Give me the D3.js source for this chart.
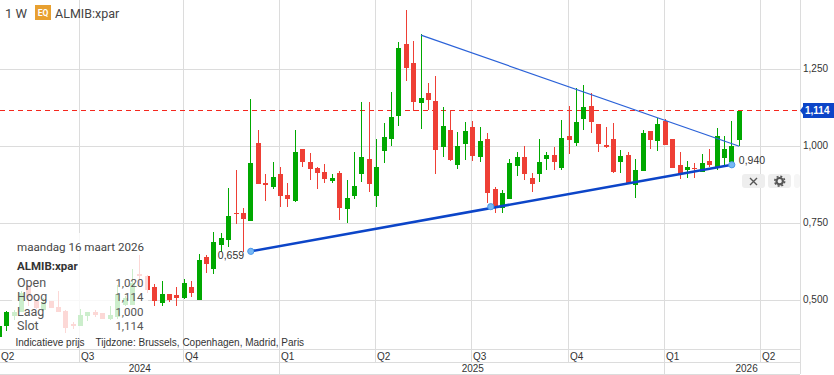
<!DOCTYPE html>
<html>
<head>
<meta charset="utf-8">
<style>
  html, body { margin: 0; padding: 0; background: #fff; }
  svg { display: block; }
  text { font-family: "Liberation Sans", Arial, sans-serif; }
  text.top, .panel text { font-family: Roboto, sans-serif; }
  .tick line { display: none; }
</style>
<script src="https://cdnjs.cloudflare.com/ajax/libs/d3/7.8.5/d3.min.js"></script>
</head>
<body>
<div id="chart"></div>
<script>
// weekly candles, oldest first (first candle is the week of 2024-04-15)
var opens = [.381,.416,.449,.462,.543,.497,.468,.499,.478,.465,.423,
  .416,.449,.462,.459,.439,.446,.485,.485,.585,.579,.544,.490,.520,.517,.507,.543,.501,.641,.602,.680,.696,.783,.783,
  .757,1.011,.881,.868,.910,.842,.822,.991,.949,.929,.917,.887,.913,.796,.839,.910,.959,.839,.985,1.024,1.098,1.332,1.270,1.141,1.173,1.147,
  .998,1.053,.939,1.007,1.063,.965,1.024,.861,.800,.829,.936,.965,.897,.910,.959,.972,.929,1.033,1.011,1.089,1.131,1.072,1.004,1.024,.949,.972,.874,
  .920,1.050,1.017,1.082,1.024,.939,.923,.929,.917,.952,.929,.962,.949,1.020];
var highs = [.416,.465,.468,.530,.550,.501,.507,.499,.530,.468,.429,
  .471,.462,.468,.459,.481,.550,.514,.602,.647,.582,.552,.563,.520,.543,.569,.563,.650,.647,.722,.718,.865,.923,.800,
  1.154,1.053,.910,.949,.933,.881,1.053,.991,.978,.933,.942,.910,.920,.890,.981,1.144,1.144,1.024,1.076,1.176,1.339,1.443,1.342,1.365,1.206,1.228,
  1.128,1.118,1.046,1.079,1.082,1.063,1.043,.868,.858,.959,.981,1.001,.913,1.024,.981,.998,1.085,1.131,1.189,1.199,1.173,1.072,1.063,1.076,.988,.981,.959,
  1.053,1.050,1.092,1.089,1.024,.981,.952,.946,.975,.991,1.059,1.033,1.082,1.114];
var lows = [.378,.400,.436,.462,.481,.471,.465,.475,.462,.394,.407,
  .416,.433,.446,.439,.436,.439,.481,.485,.550,.524,.481,.481,.494,.481,.504,.511,.501,.590,.585,.657,.673,.748,.657,
  .757,.878,.822,.861,.803,.803,.819,.933,.890,.861,.881,.881,.761,.751,.829,.884,.852,.803,.946,1.001,1.066,1.212,1.115,1.056,1.118,.910,
  .965,.952,.926,.955,.952,.949,.816,.783,.783,.829,.904,.890,.852,.884,.923,.923,.923,.975,1.001,1.053,1.043,.981,.994,.913,.913,.878,.832,
  .920,.991,.985,1.004,.929,.894,.897,.897,.917,.933,.923,.939,.936,1.000];
var closes = [.416,.462,.462,.524,.511,.475,.494,.475,.462,.410,.416,
  .452,.462,.452,.439,.452,.520,.507,.556,.579,.533,.499,.520,.501,.507,.556,.524,.631,.618,.689,.702,.774,.780,.764,
  .946,.878,.874,.900,.839,.829,.981,.949,.926,.913,.894,.897,.800,.832,.871,.965,.878,.933,1.030,1.095,1.319,1.254,1.144,1.157,1.150,.988,
  1.066,.955,1.001,1.050,.968,1.017,.848,.800,.848,.946,.965,.910,.878,.949,.972,.949,1.027,1.020,1.079,1.128,1.079,1.007,.998,.917,.968,.878,.923,
  1.043,1.020,1.072,1.004,.929,.910,.933,.926,.946,.939,1.033,.991,1.001,1.114];

var firstWeek = new Date(Date.UTC(2024, 3, 15));
var weeks = d3.range(opens.length).map(function(i) { return d3.utcMonday.offset(firstWeek, i); });

var priceTicks = [0.5, 0.75, 1, 1.25];
var lastPrice = 1.114;

var quarterDates = ["2024-04-01","2024-07-01","2024-10-07","2025-01-06","2025-04-07","2025-07-07","2025-10-06","2026-01-05","2026-04-06"].map(function(d) { return new Date(d); });
var quarterLabels = ["Q2","Q3","Q4","Q1","Q2","Q3","Q4","Q1","Q2"];
var yearDates = ["2024-08-26","2025-07-07","2026-03-23"].map(function(d) { return new Date(d); });
var yearLabels = ["2024","2025","2026"];

// drawn trend lines: [date, price]
var supportDates = ["2024-12-09","2026-03-09"].map(function(d) { return new Date(d); });
var supportPrices = [0.659, 0.940];
var supportHandleDate = new Date("2025-07-24");
var supportHandlePrice = 0.804;
var resistDates = ["2025-05-19","2026-03-16"].map(function(d) { return new Date(d); });
var resistPrices = [1.361, 1.000];

var legendRows = ["Open","Hoog","Laag","Slot"];
var legendValues = ["1,020","1,114","1,000","1,114"];

var width = 834, height = 375,
    plotRight = 800, plotBottom = 349;

var green = "#00a800", red = "#ee3f35", gridColor = "#dcdcdc";

var comma = d3.formatLocale({decimal: ",", thousands: ".", grouping: [3], currency: ["", ""]}).format(".3f");

var xScale = d3.scaleUtc()
    .domain([new Date("2024-07-01"), new Date("2026-03-16")])
    .range([80.6, 739.2]);
var yScale = d3.scaleLinear()
    .domain([0.5, 1.25])
    .range([300.3, 69.3]);

function wickX(d) { return Math.floor(xScale(d)); }
function gridX(d) { return Math.floor(xScale(d)) - 0.5; }
function py(v) { return Math.round(yScale(v)); }

var svg = d3.select("#chart").append("svg")
    .attr("width", width)
    .attr("height", height);

// grid
svg.append("g").selectAll("line")
    .data(priceTicks)
  .enter().append("line")
    .attr("x1", 0).attr("x2", plotRight)
    .attr("y1", function(d) { return py(d) + 0.5; })
    .attr("y2", function(d) { return py(d) + 0.5; })
    .style("stroke", gridColor);

svg.append("g").selectAll("line")
    .data(quarterDates.slice(1))
  .enter().append("line")
    .attr("x1", gridX).attr("x2", gridX)
    .attr("y1", 0).attr("y2", plotBottom + 13)
    .style("stroke", gridColor);

// last price line goes under the candles
var tagY = Math.floor(yScale(lastPrice)) - 0.5;
svg.append("line")
    .attr("x1", 0).attr("x2", plotRight)
    .attr("y1", tagY)
    .attr("y2", tagY)
    .style("stroke", "#f5281e")
    .style("stroke-width", 1)
    .style("stroke-dasharray", "5,4");

// candles
var candles = svg.append("g").selectAll("g")
    .data(weeks)
  .enter().append("g")
    .style("fill", function(d, i) { return closes[i] >= opens[i] ? green : red; });

candles.append("rect")
    .attr("x", wickX)
    .attr("width", 1)
    .attr("y", function(d, i) { return py(highs[i]); })
    .attr("height", function(d, i) { return py(lows[i]) - py(highs[i]); });

candles.append("rect")
    .attr("x", function(d) { return wickX(d) - 2; })
    .attr("width", 5)
    .attr("y", function(d, i) { return py(Math.max(opens[i], closes[i])); })
    .attr("height", function(d, i) { return Math.max(1, Math.abs(py(opens[i]) - py(closes[i]))); });

// trend lines
var line = d3.line()
    .x(function(d) { return xScale(d[0]); })
    .y(function(d) { return yScale(d[1]); });

svg.append("path")
    .attr("d", line(d3.zip(resistDates, resistPrices)))
    .style("fill", "none")
    .style("stroke", "#2b62d8")
    .style("stroke-width", 1.2);

svg.append("path")
    .attr("d", line(d3.zip(supportDates, supportPrices)))
    .style("fill", "none")
    .style("stroke", "#0c45c8")
    .style("stroke-width", 2.6);

svg.append("g").selectAll("circle")
    .data(d3.zip(supportDates.concat([supportHandleDate]), supportPrices.concat([supportHandlePrice])))
  .enter().append("circle")
    .attr("cx", function(d) { return xScale(d[0]); })
    .attr("cy", function(d) { return yScale(d[1]); })
    .attr("r", 3.1)
    .style("fill", "#78b8f4")
    .style("stroke", "#4a98ea");

svg.append("text")
    .attr("x", xScale(supportDates[0]) - 33).attr("y", yScale(supportPrices[0]) + 8)
    .style("font-size", "10.5px").style("fill", "#333")
    .text(comma(supportPrices[0]));
svg.append("text")
    .attr("x", xScale(supportDates[1]) + 7).attr("y", yScale(supportPrices[1]) - 0.5)
    .style("font-size", "10.5px").style("fill", "#333")
    .text(comma(supportPrices[1]));

// legend panel sits on top of the old candles
svg.append("rect")
    .attr("x", 12).attr("y", 233)
    .attr("width", 136).attr("height", 105)
    .style("fill", "#fff")
    .style("fill-opacity", 0.8);

var panel = svg.append("g").attr("class", "panel").style("fill", "#555");
panel.append("text").attr("x", 17).attr("y", 251).style("font-size", "11.6px").style("fill", "#444").text("maandag 16 maart 2026");
panel.append("text").attr("x", 17).attr("y", 269.5).style("font-size", "11.5px").style("font-weight", "bold").style("fill", "#333").text("ALMIB:xpar");
panel.selectAll(".lab").data(legendRows)
  .enter().append("text")
    .attr("class", "lab")
    .attr("x", 17).attr("y", function(d, i) { return 286.7 + i * 14.4; })
    .style("font-size", "12.5px")
    .text(function(d) { return d; });
panel.selectAll(".val").data(legendValues)
  .enter().append("text")
    .attr("class", "val")
    .attr("x", 143.5).attr("y", function(d, i) { return 286.7 + i * 14.4; })
    .style("font-size", "11.5px")
    .style("text-anchor", "end")
    .text(function(d) { return d; });

svg.append("text").attr("x", 15.5).attr("y", 346).style("font-size", "10px").style("fill", "#333").text("Indicatieve prijs");
svg.append("text").attr("x", 95.5).attr("y", 346).style("font-size", "10px").style("fill", "#333").text("Tijdzone: Brussels, Copenhagen, Madrid, Paris");

// header
svg.append("text").attr("class", "top").attr("x", 5).attr("y", 17.5).style("font-size", "13px").style("fill", "#444").text("1 W");
svg.append("rect").attr("x", 35).attr("y", 5).attr("width", 16).attr("height", 15).style("fill", "#e8a030");
svg.append("text").attr("class", "top").attr("x", 43).attr("y", 16.2)
    .style("font-size", "8.5px").style("font-weight", "bold").style("fill", "#fff").style("text-anchor", "middle").text("EQ");
svg.append("text").attr("class", "top").attr("x", 55).attr("y", 17.5).style("font-size", "12.5px").style("fill", "#444").text("ALMIB:xpar");

// axes frame
[plotBottom, plotBottom + 13, plotBottom + 25].forEach(function(y) {
  svg.append("line").attr("x1", 0).attr("x2", plotRight).attr("y1", y + 0.5).attr("y2", y + 0.5).style("stroke", gridColor);
});
svg.append("line").attr("x1", plotRight + 0.5).attr("x2", plotRight + 0.5).attr("y1", 0).attr("y2", plotBottom + 25).style("stroke", gridColor);

var xAxis = d3.axisBottom(xScale)
    .tickValues(quarterDates)
    .tickSize(0)
    .tickPadding(0)
    .tickFormat(function(d, i) { return quarterLabels[i]; });

svg.append("g")
    .attr("transform", "translate(0," + plotBottom + ")")
    .call(xAxis)
    .call(function(g) { g.select(".domain").remove(); })
    .selectAll(".tick")
      .attr("transform", function(d) { return "translate(" + Math.max(gridX(d) + 1.5, 1) + ",0)"; })
    .select("text")
      .attr("y", 10.5)
      .attr("dy", 0)
      .style("text-anchor", "start")
      .style("font-size", "10px")
      .style("font-family", "\"Liberation Sans\", Arial, sans-serif")
      .style("fill", "#333");

svg.append("g").selectAll("line")
    .data(quarterDates.filter(function(d) { return d.getUTCMonth() === 0; }))
  .enter().append("line")
    .attr("x1", gridX).attr("x2", gridX)
    .attr("y1", plotBottom + 13).attr("y2", plotBottom + 25)
    .style("stroke", gridColor);

svg.append("g").selectAll("text")
    .data(yearDates)
  .enter().append("text")
    .attr("x", xScale)
    .attr("y", plotBottom + 23)
    .style("text-anchor", "middle")
    .style("font-size", "10px")
    .style("fill", "#333")
    .text(function(d, i) { return yearLabels[i]; });

var yAxis = d3.axisRight(yScale)
    .tickValues(priceTicks)
    .tickSize(0)
    .tickPadding(3)
    .tickFormat(comma);

svg.append("g")
    .attr("transform", "translate(" + plotRight + ",-1.5)")
    .call(yAxis)
    .call(function(g) { g.select(".domain").remove(); })
    .selectAll("text")
      .style("font-size", "10px")
      .style("font-family", "\"Liberation Sans\", Arial, sans-serif")
      .style("fill", "#333");

// last price tag
svg.append("path")
    .attr("d", "M800," + tagY + "L803," + (tagY - 4) + "V" + (tagY - 7.5) + "H834V" + (tagY + 7.5) + "H803V" + (tagY + 4) + "Z")
    .style("fill", "#0c45c8");
svg.append("text")
    .attr("x", 805).attr("y", tagY + 3.5)
    .style("font-size", "10px").style("font-weight", "bold").style("fill", "#fff")
    .text(comma(lastPrice));

// little toolbar next to the selected trend line
var btn = svg.append("g");
[[742, 23], [768, 23], [794, 6]].forEach(function(b, i) {
  btn.append("rect").attr("x", b[0]).attr("y", 174).attr("width", b[1]).attr("height", 14).attr("rx", 3)
      .style("fill", i == 2 ? "#f6f6f6" : "#eeeeee");
});
btn.append("path").attr("d", "M750,178L757,185M757,178L750,185").style("stroke", "#555").style("stroke-width", 1.4);
btn.append("circle").attr("cx", 779.7).attr("cy", 181.2).attr("r", 3.2)
    .style("fill", "none").style("stroke", "#555").style("stroke-width", 2.2);
btn.append("circle").attr("cx", 779.7).attr("cy", 181.2).attr("r", 4.9)
    .style("fill", "none").style("stroke", "#555").style("stroke-width", 1.6).style("stroke-dasharray", "2,1.85");
</script>
</body>
</html>
